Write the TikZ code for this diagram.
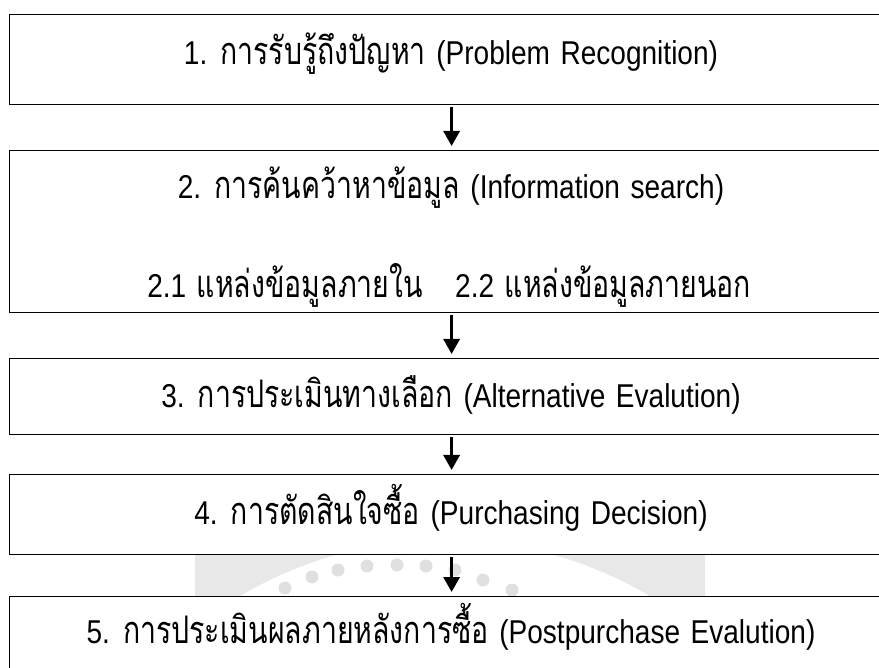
\documentclass[tikz,border=0pt]{standalone}
\usepackage{fontspec}
\setmainfont[FakeStretch=0.85,WordSpace=1.35]{Liberation Sans}
\newfontfamily\thai[Script=Thai,Scale=1.15,FakeStretch=0.75]{Loma}
\usetikzlibrary{arrows.meta}
\tikzset{
	stagebox/.style={draw,fill=white,line width=1.2pt,minimum width=884pt,anchor=north west,inner sep=0pt},
	steptext/.style={anchor=base,inner sep=0pt,font=\fontsize{33}{38}\selectfont},
	flow/.style={-{Triangle[length=15pt,width=16pt]},line width=3pt,shorten <=2pt,shorten >=4pt}
}
\begin{document}
\begin{tikzpicture}[x=1pt,y=-1pt]
				\clip (0,0) rectangle (879,668);
				
				% faint seal behind the boxes
				\begin{scope}
					\clip (195,540) rectangle (705,600);
					\fill[black!9,even odd rule] (445,942) circle (470pt) (445,942) circle (402pt);
				\end{scope}
				\foreach \x/\y in {285/588,312/577,338/570,367/566,397/565,426/566,455/570,483/580,512/590}
					\fill[black!12] (\x,\y) circle (6.5pt);
				
				\node[stagebox,minimum height=90pt] (recog) at (9,14) {};
				\node[stagebox,minimum height=162pt] (search) at (9,150) {};
				\node[stagebox,minimum height=76pt] (altern) at (9,358) {};
				\node[stagebox,minimum height=80pt] (decide) at (9,474) {};
				\node[stagebox,minimum height=90pt] (postbuy) at (9,596) {};
				
				\node[steptext] (recogtxt) at (451,65) {1. {\thai การรับรู้ถึงปัญหา} (Problem Recognition)};
				\node[steptext] (searchtxt) at (451,199) {2. {\thai การค้นคว้าหาข้อมูล} (Information search)};
				\node[steptext,anchor=base east] (inner) at (423,298) {2.1 {\thai แหล่งข้อมูลภายใน}};
				\node[steptext,anchor=base west] (outer) at (455,298) {2.2 {\thai แหล่งข้อมูลภายนอก}};
				\node[steptext] (alterntxt) at (451,408) {3. {\thai การประเมินทางเลือก} (Alternative Evalution)};
				\node[steptext] (decidetxt) at (451,524) {4. {\thai การตัดสินใจซื้อ} (Purchasing Decision)};
				\node[steptext] (postbuytxt) at (451,643) {5. {\thai การประเมินผลภายหลังการซื้อ} (Postpurchase Evalution)};
				
				\draw[flow] (recog.south) -- (search.north);
				\draw[flow] (search.south) -- (altern.north);
				\draw[flow] (altern.south) -- (decide.north);
				\draw[flow] (decide.south) -- (postbuy.north);
			\end{tikzpicture}
\end{document}
